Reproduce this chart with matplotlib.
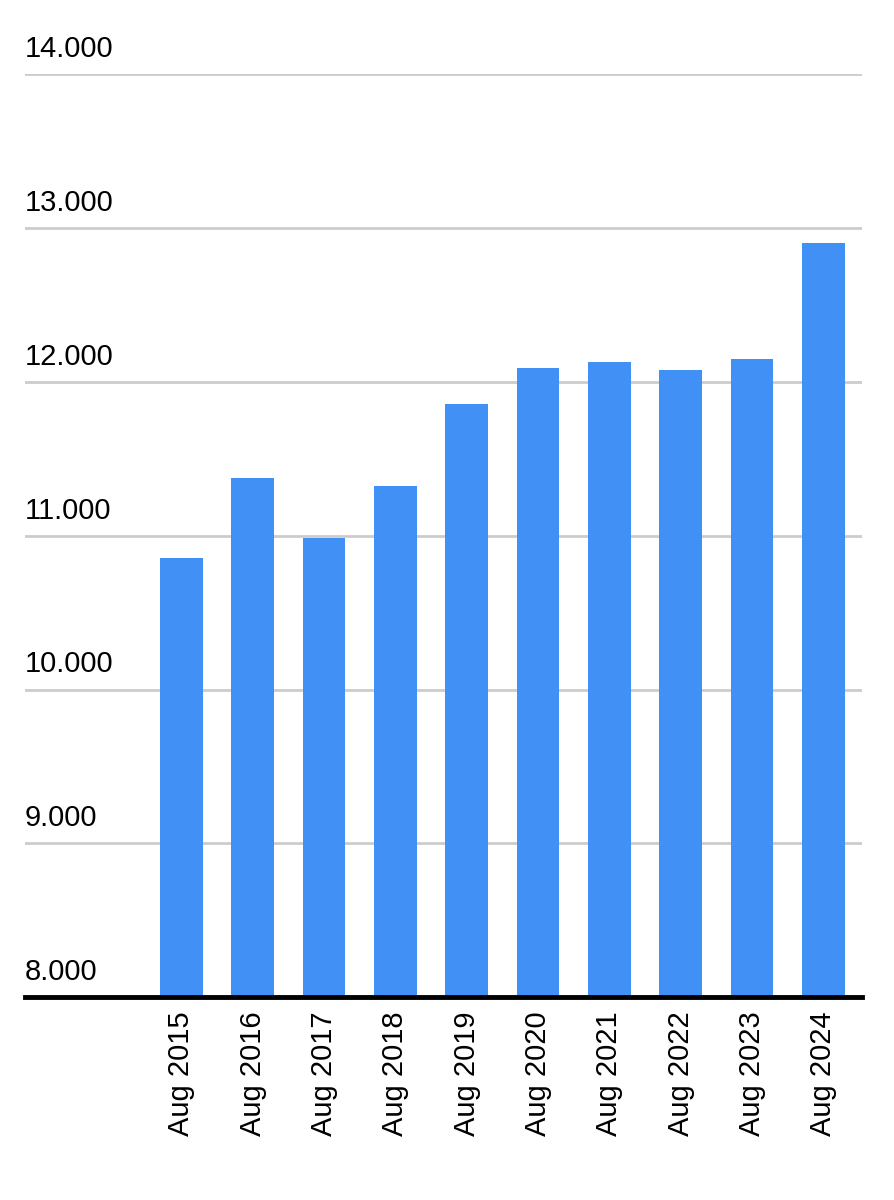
import matplotlib
matplotlib.use('Agg')
import matplotlib.pyplot as plt
import matplotlib.transforms as mtransforms

labels = ['Aug 2015', 'Aug 2016', 'Aug 2017', 'Aug 2018', 'Aug 2019',
          'Aug 2020', 'Aug 2021', 'Aug 2022', 'Aug 2023', 'Aug 2024']
values = [10857, 11377, 10987, 11325, 11857, 12091, 12130, 12078, 12150, 12902]
yticks = [8000, 9000, 10000, 11000, 12000, 13000, 14000]
ytick_labels = ['8.000', '9.000', '10.000', '11.000', '12.000', '13.000', '14.000']

plt.rcParams['font.family'] = ['Liberation Sans', 'DejaVu Sans']
fig = plt.figure(figsize=(8.95, 12), dpi=100)
ax = fig.add_axes([0.028, 0.169, 0.935, 0.769])

x = list(range(len(labels)))
ax.bar(x, values, width=0.6, color='#4190f5', zorder=2)
ax.set_ylim(8000, 14000)
ax.set_xlim(-2.19, 9.54)

for v in yticks[1:]:
    ax.axhline(v, color='#cccccc', lw=2, zorder=1)
ax.axhline(8000, color='black', lw=3.5, zorder=3, clip_on=False)

trans = mtransforms.blended_transform_factory(ax.transAxes, ax.transData)
off = mtransforms.offset_copy(trans, fig=fig, x=0, y=8, units='points')
for v, t in zip(yticks, ytick_labels):
    ax.text(0, v, t, transform=off, fontsize=21, ha='left', va='bottom')

ax.set_yticks([])
ax.set_xticks(x)
ax.set_xticklabels(labels, rotation=90, fontsize=21)
ax.tick_params(axis='x', length=0, pad=10)
for s in ax.spines.values():
    s.set_visible(False)

fig.savefig('out.png', dpi=100)
